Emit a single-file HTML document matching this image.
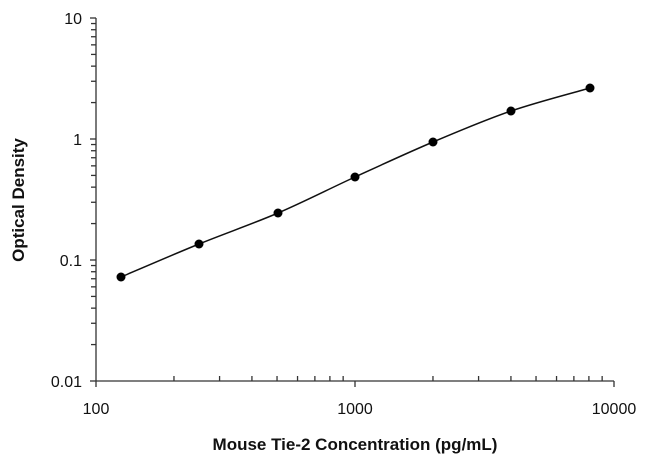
<!DOCTYPE html>
<html><head><style>body{margin:0;background:#fff}svg{display:block}text{font-family:"Liberation Sans",sans-serif}</style></head>
<body>
<svg id="s" width="650" height="470" xmlns="http://www.w3.org/2000/svg">
<g stroke="#333" stroke-width="1.3" fill="none" id="ax">
<line x1="96" y1="18" x2="96" y2="381"/>
<line x1="96" y1="381" x2="614" y2="381"/>
</g>
<g font-size="16" fill="#111" text-anchor="end">
<text x="82" y="24">10</text>
<text x="82" y="145">1</text>
<text x="82" y="266">0.1</text>
<text x="82" y="387">0.01</text>
</g>
<g font-size="16" fill="#111" text-anchor="middle">
<text x="96" y="414">100</text>
<text x="355" y="414">1000</text>
<text x="614" y="414">10000</text>
</g>
<text x="355" y="450" font-size="17" font-weight="bold" text-anchor="middle" fill="#111">Mouse Tie-2 Concentration (pg/mL)</text>
<text transform="translate(24,200) rotate(-90)" font-size="17" font-weight="bold" text-anchor="middle" fill="#111">Optical Density</text>
<path id="c" stroke="#111" stroke-width="1.5" fill="none"/>
<g id="p" fill="#000"></g>
</svg>
<script>
var ax=document.getElementById('ax'),ns='http://www.w3.org/2000/svg';
function L(a,b,c,d){var l=document.createElementNS(ns,'line');l.setAttribute('x1',a);l.setAttribute('y1',b);l.setAttribute('x2',c);l.setAttribute('y2',d);ax.appendChild(l);}
for(var d=0;d<3;d++){var y0=381-121*d;L(90,y0,96,y0);for(var k=2;k<10;k++){var y=y0-121*Math.log10(k);L(91,y,96,y);}}
L(90,18,96,18);
for(var d=0;d<2;d++){var x0=96+259*d;L(x0,381,x0,387);for(var k=2;k<10;k++){var x=x0+259*Math.log10(k);L(x,376,x,381);}}
L(614,381,614,387);
var pts=[[121,277],[199,244],[278,213],[355,177],[433,142],[511,111],[590,88]];
var g=document.getElementById('p');
pts.forEach(function(q){var c=document.createElementNS(ns,'circle');c.setAttribute('cx',q[0]);c.setAttribute('cy',q[1]);c.setAttribute('r',4.5);g.appendChild(c);});
var s='M'+pts[0];
for(var i=0;i<pts.length-1;i++){var p0=pts[Math.max(i-1,0)],p1=pts[i],p2=pts[i+1],p3=pts[Math.min(i+2,pts.length-1)];
s+=' C'+(p1[0]+(p2[0]-p0[0])/6)+','+(p1[1]+(p2[1]-p0[1])/6)+' '+(p2[0]-(p3[0]-p1[0])/6)+','+(p2[1]-(p3[1]-p1[1])/6)+' '+p2;}
document.getElementById('c').setAttribute('d',s);
</script>
</body></html>
